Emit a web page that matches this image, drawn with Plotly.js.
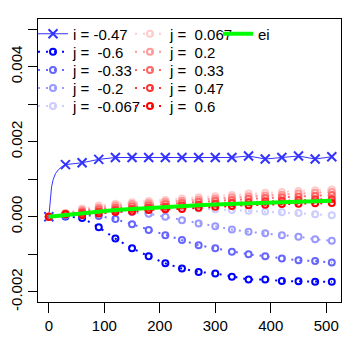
<!DOCTYPE html>
<html><head><meta charset="utf-8">
<script src="https://cdn.plot.ly/plotly-3.0.1.min.js"></script>
<style>html,body{margin:0;padding:0;background:#fff}#chart{width:350px;height:350px}</style>
</head><body><div id="chart"></div>
<script>
// ---- data ----
const xGrid = [0,30,60,90,120,150,180,210,240,270,300,330,360,390,420,450,480,510];
const iY = [0,0.00139,0.00144,0.00153,0.00158,0.00158,0.00158,0.00158,0.00158,0.00158,0.00158,0.00158,0.00162,0.00154,0.00158,0.00162,0.00154,0.0016];
// thin line of the i series between x=0 and x=30
const iCurveX = [1.5,3,5,8,12,17,23];
const iCurveY = [0.00027,0.00053,0.0008,0.001,0.00115,0.00125,0.00133];
const jNeg060 = [0,0.00001,-0.00003,-0.00028,-0.00058,-0.00084,-0.00105,-0.00124,-0.00138,-0.00147,-0.00151,-0.0016,-0.00167,-0.00167,-0.00171,-0.00172,-0.00173,-0.00173];
const jNeg033 = [0,0.00003,0.00004,0.00002,-0.00006,-0.0002,-0.00035,-0.00049,-0.00062,-0.00076,-0.00084,-0.00093,-0.001,-0.00105,-0.00111,-0.00116,-0.00118,-0.00122];
const jNeg020 = [0,0.00006,0.00011,0.00014,0.00015,0.00013,0.00008,0,-0.00009,-0.00018,-0.00025,-0.00034,-0.0004,-0.00044,-0.00049,-0.00053,-0.0006,-0.00064];
const jNeg0067 = [0,0.00008,0.00016,0.00022,0.00025,0.00026,0.00026,0.00025,0.00024,0.00022,0.0002,0.00018,0.00016,0.00014,0.00012,0.0001,0.00007,0.00004];
const jPos0067 = [0,0.0001,0.00022,0.0003,0.00035,0.00039,0.00042,0.00045,0.00049,0.00052,0.00055,0.00058,0.00062,0.00064,0.00066,0.00069,0.00071,0.00073];
const jPos020 = [0,0.00009,0.00018,0.00025,0.0003,0.00034,0.00037,0.0004,0.00043,0.00046,0.00049,0.00052,0.00055,0.00057,0.00059,0.00062,0.00064,0.00066];
const jPos033 = [0,0.00008,0.00014,0.0002,0.00024,0.00028,0.00031,0.00034,0.00037,0.0004,0.00043,0.00045,0.00048,0.0005,0.00052,0.00054,0.00056,0.00058];
const jPos047 = [0,0.00007,0.0001,0.00014,0.00018,0.00021,0.00024,0.00027,0.0003,0.00032,0.00035,0.00037,0.00039,0.00041,0.00043,0.00045,0.00046,0.00047];
const jPos060 = [0,0.00007,0.00005,0.00009,0.00013,0.00014,0.00018,0.0002,0.00021,0.00024,0.00027,0.00029,0.00031,0.00032,0.00034,0.00035,0.00036,0.00037];
const eiY = [0,0.00005,0.0001,0.00014,0.00018,0.00021,0.00024,0.00027,0.00029,0.00031,0.00033,0.00035,0.00036,0.00038,0.00039,0.0004,0.00042,0.00043];
const seriesLabels = ['i = -0.47','j =  -0.6','j =  -0.33','j =  -0.2','j =  -0.067','j =  0.067','j =  0.2','j =  0.33','j =  0.47','j =  0.6','ei'];
const xTicks = [0,100,200,300,400,500];
const yTicks = [-0.002,-0.001,0,0.001,0.002,0.003,0.004,0.005];
const yTickText = ['-0.002','','0.000','','0.002','','0.004',''];

// ---- layout geometry ----
const W = 350, H = 350, M = {l:38, r:9, t:19, b:48};
const PW = W - M.l - M.r, PH = H - M.t - M.b;
const px = x => (x - M.l) / PW;
const py = y => 1 - (y - M.t) / PH;
const FONT = 'Liberation Sans, Arial, sans-serif';
const nb = s => s.replace(/  /g, ' \u00a0');

// merge i series points with its thin-curve points
const iPts = xGrid.map((x,k)=>({x, y:iY[k], m:true})).concat(iCurveX.map((x,k)=>({x, y:iCurveY[k], m:false})));
iPts.sort((a,b)=>a.x-b.x);

const circleSeries = [
  [jNeg060,'#0000FF'],[jNeg033,'#6666FF'],[jNeg020,'#9999FF'],[jNeg0067,'#CCCCFF'],
  [jPos0067,'#FFCCCC'],[jPos020,'#FF9999'],[jPos033,'#FF6666'],[jPos047,'#FF3333'],[jPos060,'#FF0000']
];

const legName = k => k === 0 ? 'legend' : 'legend' + (k+1);
const traces = [];
traces.push({
  x: iPts.map(p=>p.x), y: iPts.map(p=>p.y), mode:'lines+markers', type:'scatter',
  name: nb(seriesLabels[0]), legend: legName(0),
  line:{color:'#3333FF', width:1},
  marker:{symbol:'x-thin-open', size:9, color: iPts.map(p=>p.m ? '#3333FF' : 'rgba(0,0,0,0)'), line:{width:2}}
});
circleSeries.forEach(([ys,c],k)=>{
  traces.push({
    x: xGrid, y: ys, mode:'lines+markers', type:'scatter',
    name: nb(seriesLabels[k+1]), legend: legName(k+1),
    line:{color:c, width:2, dash:'2px,6px'},
    marker:{symbol:'circle-open', size:6, color:c, line:{width:2}}
  });
});
traces.push({
  x: xGrid, y: eiY, mode:'lines', type:'scatter', name: seriesLabels[10], legend: legName(10),
  line:{color:'#00FF00', width:4}
});

const layout = {
  width: W, height: H, margin: M,
  paper_bgcolor:'white', plot_bgcolor:'white',
  font:{family:FONT, size:15, color:'black'},
  xaxis:{range:[-19.5,526.6], tickmode:'array', tickvals:xTicks, ticks:'outside', ticklen:10, tickwidth:1, tickcolor:'black',
    showline:true, mirror:true, linecolor:'black', linewidth:1, showgrid:false, zeroline:false,
    tickfont:{family:FONT, size:15, color:'black'}},
  yaxis:{range:[-0.00227,0.00527], tickmode:'array', tickvals:yTicks, ticktext:yTickText, tickangle:-90,
    ticks:'outside', ticklen:9, tickwidth:1, tickcolor:'black',
    showline:true, mirror:true, linecolor:'black', linewidth:1, showgrid:false, zeroline:false,
    tickfont:{family:FONT, size:15, color:'black'}},
  showlegend:true
};
// one small legend per entry, laid out in three columns like the reference
const rowY = r => 34 + 18.08*r;
const colLeft = [33, 130, 218];
for (let k=0;k<11;k++){
  const col = k===10 ? 2 : (k<5 ? 0 : 1);
  const row = k===10 ? 0 : k%5;
  layout[legName(k)] = {
    x: px(colLeft[col]), y: py(rowY(row)), xanchor:'left', yanchor:'middle',
    bgcolor:'rgba(0,0,0,0)', borderwidth:0, itemwidth:30,
    font:{family:FONT, size:15, color:'black'}, itemclick:false, itemdoubleclick:false
  };
}
Plotly.newPlot('chart', traces, layout, {staticPlot:true});
</script></body></html>
